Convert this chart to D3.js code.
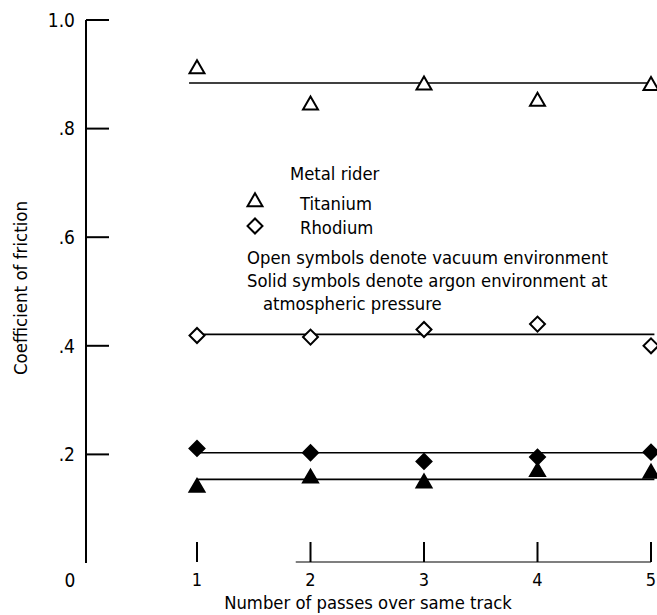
<!DOCTYPE html>
<html>
<head>
<meta charset="utf-8">
<script src="https://cdn.jsdelivr.net/npm/d3@7"></script>
<style>
  html, body { margin: 0; padding: 0; background: #fff; }
  svg { display: block; }
  text { font-family: "DejaVu Sans Condensed", "Liberation Sans Narrow", sans-serif; fill: #000; }
</style>
</head>
<body>
<script>
// ---- data ----
const passes = [1, 2, 3, 4, 5];
const titaniumVacuum = [0.91, 0.843, 0.880, 0.850, 0.879];
const rhodiumVacuum = [0.419, 0.416, 0.430, 0.440, 0.400];
const rhodiumArgon = [0.211, 0.203, 0.187, 0.195, 0.204];
const titaniumArgon = [0.139, 0.156, 0.147, 0.168, 0.165];
const fitTitaniumVacuum = 0.884;
const fitRhodiumVacuum = 0.421;
const fitRhodiumArgon = 0.203;
const fitTitaniumArgon = 0.154;
const yTicks = [0.2, 0.4, 0.6, 0.8, 1.0];
const yTickLabels = [".2", ".4", ".6", ".8", "1.0"];
const xTickLabels = ["1", "2", "3", "4", "5"];

const W = 657, H = 615;
const svg = d3.select("body").append("svg").attr("width", W).attr("height", H);

const x = d3.scaleLinear().domain([1, 5]).range([197, 651]);
const y = d3.scaleLinear().domain([0, 1]).range([563, 20]);
const axisX = 86;

// y axis line
svg.append("line").attr("x1", axisX).attr("x2", axisX).attr("y1", y(1)).attr("y2", y(0))
  .attr("stroke", "#000").attr("stroke-width", 2);
// y ticks (inward)
svg.selectAll(".ytick").data(yTicks).enter().append("line")
  .attr("x1", axisX).attr("x2", axisX + 23)
  .attr("y1", d => y(d)).attr("y2", d => y(d))
  .attr("stroke", "#000").attr("stroke-width", 2);
svg.selectAll(".ylab").data(yTicks).enter().append("text")
  .attr("x", axisX - 11).attr("y", d => y(d)).attr("dy", "0.36em")
  .attr("text-anchor", "end").attr("font-size", 19)
  .text((d, i) => yTickLabels[i]);
svg.append("text").attr("x", 70).attr("y", y(0) + 17).attr("dy", "0.36em")
  .attr("text-anchor", "middle").attr("font-size", 19).text("0");

// x axis partial baseline
svg.append("line").attr("x1", x(1.87)).attr("x2", x(5)).attr("y1", y(0) - 1).attr("y2", y(0) - 1)
  .attr("stroke", "#000").attr("stroke-width", 1.2);
// x ticks (inward)
svg.selectAll(".xtick").data(passes).enter().append("line")
  .attr("x1", d => x(d)).attr("x2", d => x(d))
  .attr("y1", y(0) - 21).attr("y2", y(0) - 1)
  .attr("stroke", "#000").attr("stroke-width", 2);
svg.selectAll(".xlab").data(passes).enter().append("text")
  .attr("x", d => x(d)).attr("y", y(0) + 17).attr("dy", "0.36em")
  .attr("text-anchor", "middle").attr("font-size", 18)
  .text((d, i) => xTickLabels[i]);

// axis titles
svg.append("text").attr("x", 368).attr("y", 602).attr("dy", "0.36em")
  .attr("text-anchor", "middle").attr("font-size", 18.3)
  .text("Number of passes over same track");
svg.append("text").attr("transform", "translate(20,288) rotate(-90)")
  .attr("dy", "0.36em").attr("text-anchor", "middle").attr("font-size", 18.5)
  .text("Coefficient of friction");

// fit lines
const fits = [
  { v: fitTitaniumVacuum, x0: 0.93 },
  { v: fitRhodiumVacuum, x0: 1 },
  { v: fitRhodiumArgon, x0: 1 },
  { v: fitTitaniumArgon, x0: 1 }
];
svg.selectAll(".fit").data(fits).enter().append("line")
  .attr("x1", d => x(d.x0)).attr("x2", x(5.03))
  .attr("y1", d => y(d.v)).attr("y2", d => y(d.v))
  .attr("stroke", "#000").attr("stroke-width", 1.6);

// markers
const tri = d3.symbol().type(d3.symbolTriangle).size(97)();
const dia = d3.symbol().type(d3.symbolSquare).size(112)();
function drawSeries(vals, path, filled, rot) {
  svg.append("g").selectAll("path").data(vals).enter().append("path")
    .attr("d", path)
    .attr("transform", (d, i) => `translate(${x(passes[i])},${y(d)}) rotate(${rot})`)
    .attr("fill", filled ? "#000" : "#fff")
    .attr("stroke", "#000").attr("stroke-width", 2);
}
drawSeries(titaniumVacuum, tri, false, 0);
drawSeries(rhodiumVacuum, dia, false, 45);
drawSeries(rhodiumArgon, dia, true, 45);
drawSeries(titaniumArgon, tri, true, 0);

// legend
const fs = 18.3;
const lg = svg.append("g");
lg.append("text").attr("x", 290).attr("y", 173).attr("dy", "0.36em").attr("font-size", fs).text("Metal rider");
lg.append("path").attr("d", tri).attr("transform", "translate(255,202)")
  .attr("fill", "#fff").attr("stroke", "#000").attr("stroke-width", 2);
lg.append("text").attr("x", 300).attr("y", 203).attr("dy", "0.36em").attr("font-size", fs).text("Titanium");
lg.append("path").attr("d", dia).attr("transform", "translate(255,226) rotate(45)")
  .attr("fill", "#fff").attr("stroke", "#000").attr("stroke-width", 2);
lg.append("text").attr("x", 300).attr("y", 227).attr("dy", "0.36em").attr("font-size", fs).text("Rhodium");
lg.append("text").attr("x", 247).attr("y", 257).attr("dy", "0.36em").attr("font-size", fs)
  .text("Open symbols denote vacuum environment");
lg.append("text").attr("x", 247).attr("y", 280).attr("dy", "0.36em").attr("font-size", fs)
  .text("Solid symbols denote argon environment at");
lg.append("text").attr("x", 263).attr("y", 303).attr("dy", "0.36em").attr("font-size", fs)
  .text("atmospheric pressure");
</script>
</body>
</html>
